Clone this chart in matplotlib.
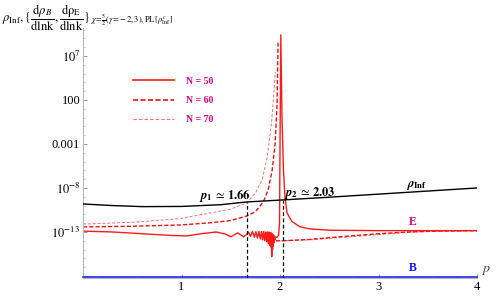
import numpy as np
import matplotlib
matplotlib.use("Agg")
import matplotlib.pyplot as plt
from matplotlib.lines import Line2D
from matplotlib.text import Annotation

plt.rcParams['font.family'] = ['Liberation Serif', 'DejaVu Serif']
plt.rcParams['mathtext.fontset'] = 'stix'

# ---- data (log10 values) ----
x_inf = [0, 0.3, 0.6, 1.0, 1.4, 1.66, 2.03, 2.5, 3.0, 3.5, 4.0]
d_inf = [-9.82, -10.0, -10.12, -10.1, -9.9, -9.59, -9.36, -9.05, -8.7, -8.35, -8.0]

x_n50 = [0, 0.3, 0.6, 0.9, 1.05, 1.2, 1.35, 1.45, 1.5, 1.57, 1.63,
         1.66, 1.68, 1.70, 1.72, 1.74, 1.755, 1.77, 1.785, 1.80, 1.812, 1.824,
         1.835, 1.845, 1.855, 1.864, 1.872, 1.88, 1.887, 1.894, 1.90, 1.906,
         1.911, 1.916, 1.920, 1.924, 1.928, 1.932, 1.936, 1.940, 1.944, 1.948,
         1.955, 1.97, 1.985, 1.995, 2.0, 2.008, 2.02, 2.035, 2.05, 2.07, 2.12,
         2.2, 2.3, 2.5, 3.0, 3.5, 4.0]
d_n50 = [-12.9, -13.0, -13.2, -13.4, -13.45, -13.2, -13.0, -13.25, -13.55, -13.1, -13.55,
         -13.3, -13.0, -13.5, -12.95, -13.6, -12.95, -13.7, -12.95, -13.8, -12.95, -13.9,
         -12.95, -14.0, -13.0, -14.1, -13.0, -14.3, -13.0, -14.5, -13.1, -14.7,
         -13.1, -15.8, -13.2, -15.0, -13.3, -14.6, -13.4, -14.2, -13.5, -13.9,
         -13.6, -13.6, -13.4, -12.0, -3.0, 9.4, 0.0, -6.0, -9.0, -10.8, -11.8,
         -12.4, -12.65, -12.8, -12.85, -12.85, -12.85]

x_n60 = [0, 0.5, 1.0, 1.3, 1.5, 1.66, 1.75, 1.83, 1.88, 1.92, 1.95, 1.97, 1.98,
         np.nan, 1.96, 2.03, 2.3, 2.6, 3.0, 3.3, 3.6, 4.0]
d_n60 = [-12.43, -12.35, -12.2, -11.95, -11.7, -11.2, -10.7, -9.6, -8.2, -6.0, -3.0, 1.5, 8.5,
         np.nan, -14.0, -14.0, -13.85, -13.55, -13.2, -13.0, -12.9, -12.85]

x_n70 = [0, 0.5, 0.86, 1.0, 1.36, 1.5, 1.66, 1.75, 1.82, 1.87, 1.91, 1.94, 1.95,
         np.nan, 1.96, 2.03, 2.3, 2.6, 3.0, 3.3, 3.6, 4.0]
d_n70 = [-12.1, -11.9, -11.6, -11.45, -10.7, -10.4, -9.7, -8.6, -7.0, -4.5, -1.0, 3.0, 5.2,
         np.nan, -14.0, -14.0, -13.9, -13.65, -13.3, -13.05, -12.9, -12.85]

x_b = [0, 4]
d_b = [-18.15, -18.15]

p1, p2 = 1.66, 2.03
yticks_exp = [7, 2, -3, -8, -13]
ytick_labels = [r'$10^{7}$', '100', '0.001', r'$10^{-8}$', r'$10^{-13}$']
xticks = [1, 2, 3, 4]

pink = '#e6007e'

fig = plt.figure(figsize=(4.98, 2.97), dpi=100)
ax = fig.add_axes([0.1667, 0.064, 0.7912, 0.8418])
ax.set_yscale('log')
ax.set_xlim(0, 4)
ax.set_ylim(10**-18.23, 10**10.18)

def p(d):
    return np.power(10.0, np.array(d, dtype=float))

ax.plot(x_inf, p(d_inf), color='black', lw=1.0, zorder=3)
ax.plot(x_n70, p(d_n70), color='#ff6b6b', lw=0.7, ls=(0, (3, 2)), zorder=2)
ax.plot(x_n60, p(d_n60), color='#ee1111', lw=1.0, ls=(0, (3, 1.5)), zorder=2)
ax.plot(x_n50, p(d_n50), color='#ff1a1a', lw=1.0, zorder=2)
ax.plot(x_b, p(d_b), color='#1010ff', lw=1.1, zorder=3, clip_on=False)

inf_p1 = np.interp(p1, x_inf, d_inf)
inf_p2 = np.interp(p2, x_inf, d_inf)
ax.vlines([p1, p2], 10**-18.23, [10**inf_p1, 10**inf_p2], colors='black',
          linestyles=(0, (3, 2)), lw=0.9, zorder=4)

ax.text(1.44, 10**-9.25, r'$\boldsymbol{p}_{\mathbf{1}}\,\simeq\,\mathbf{1.66}$',
        fontsize=9, ha='center', va='baseline')
ax.text(2.30, 10**-8.9, r'$\boldsymbol{p}_{\mathbf{2}}\,\simeq\,\mathbf{2.03}$',
        fontsize=9, ha='center', va='baseline')
ax.text(3.39, 10**-7.75, r'$\boldsymbol{\rho}_{\mathbf{Inf}}$', fontsize=9,
        ha='center', va='center')
ax.text(3.35, 10**-11.85, 'E', color=pink, fontsize=8.5, fontweight='bold',
        ha='center', va='center')
ax.text(3.35, 10**-17.1, 'B', color='#1010ff', fontsize=8.5, fontweight='bold',
        ha='center', va='center')

for s in ['top', 'right']:
    ax.spines[s].set_visible(False)
for s in ['left', 'bottom']:
    ax.spines[s].set_color('#b8b8b8')
    ax.spines[s].set_linewidth(0.8)

ax.set_xticks(xticks)
ax.set_xticklabels([str(t) for t in xticks])
ax.set_xticks(np.arange(0.2, 4.01, 0.2), minor=True)
ax.set_yticks([10.0**e for e in yticks_exp])
ax.set_yticklabels(ytick_labels)
ax.set_yticks([10.0**e for e in range(-18, 11) if e not in yticks_exp], minor=True)
ax.yaxis.set_minor_formatter(matplotlib.ticker.NullFormatter())
ax.tick_params(axis='both', which='major', direction='in', length=3, width=0.6,
               color='#888888', labelsize=9, pad=2)
ax.tick_params(axis='both', which='minor', direction='in', length=1.5, width=0.5,
               color='#aaaaaa')

ax.text(1.01, 0.03, r'$p$', transform=ax.transAxes, fontsize=10, color='#444444',
        ha='left', va='center')

handles = [Line2D([], [], color='#ff1a1a', lw=1.2),
           Line2D([], [], color='#ee1111', lw=1.2, ls=(0, (3, 1.5))),
           Line2D([], [], color='#ff6b6b', lw=0.8, ls=(0, (3, 2)))]
leg = ax.legend(handles, ['N = 50', 'N = 60', 'N = 70'], loc='upper left',
                bbox_to_anchor=(0.105, 0.84), frameon=False,
                handlelength=4.2, handletextpad=1.2, labelspacing=1.05,
                prop={'weight': 'bold', 'size': 7})
for t in leg.get_texts():
    t.set_color(pink)

t1 = fig.text(0.004, 0.94,
              r'$\rho_{\rm Inf},\{\dfrac{{\rm d}\rho_B}{\rm dlnk},\dfrac{{\rm d}\rho_E}{\rm dlnk}\}$',
              fontsize=9, ha='left', va='center')
fig.add_artist(Annotation(
    r'$\chi\!=\!\frac{5}{2}(\gamma\!=\!-2,3),{\rm PL}\,[\rho^{c}_{\rm Inf}]$',
    xy=(1.0, 0.18), xycoords=t1, xytext=(1, 0), textcoords='offset points',
    fontsize=6, ha='left', va='bottom'))

fig.savefig('out.png', dpi=100)
